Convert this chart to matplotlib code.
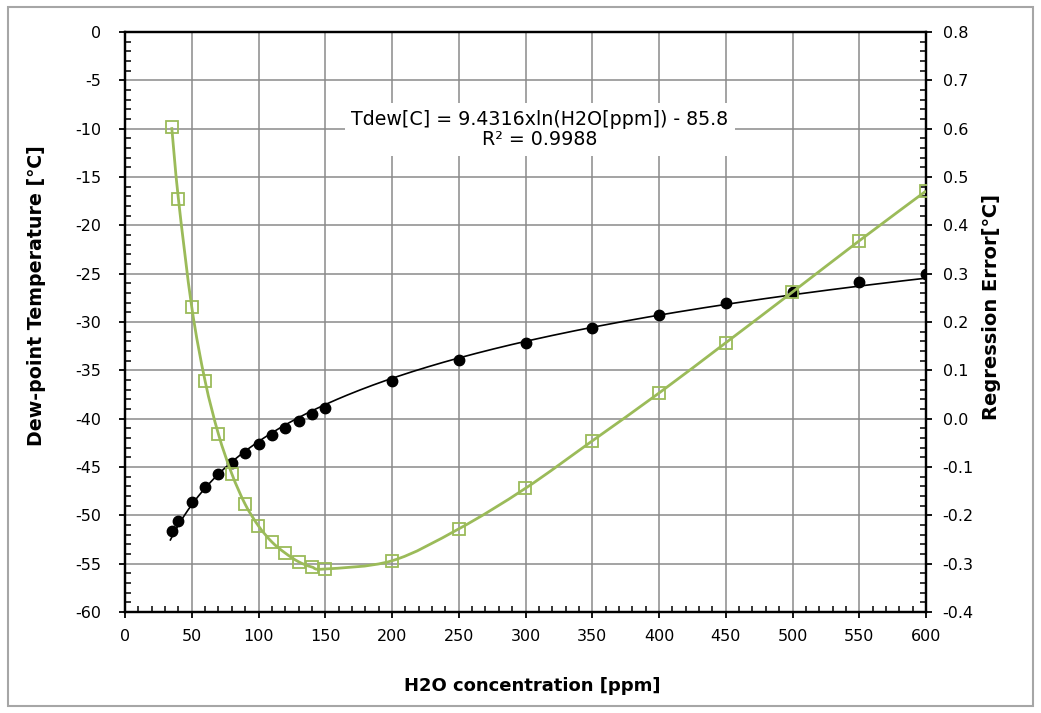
import numpy as np
import matplotlib
matplotlib.use("Agg")
import matplotlib.pyplot as plt
from matplotlib.path import Path
from matplotlib.patches import PathPatch, Rectangle
from matplotlib.ticker import MultipleLocator, FormatStrFormatter

plt.rcParams['font.family'] = ['DejaVu Sans']
plt.rcParams['axes.unicode_minus'] = False

# values
h2o_ppm = [35, 40, 50, 60, 70, 80, 90, 100, 110, 120, 130, 140, 150,
           200, 250, 300, 350, 400, 450, 500, 550, 600]
dew_point = [-51.67, -50.55, -48.67, -47.10, -45.76, -44.58, -43.54, -42.59,
             -41.73, -40.93, -40.19, -39.50, -38.85, -36.12, -33.95, -32.14,
             -30.60, -29.24, -28.02, -26.93, -25.91, -24.99]
reg_error = [0.603, 0.455, 0.231, 0.078, -0.032, -0.114, -0.177, -0.222,
             -0.255, -0.278, -0.296, -0.307, -0.311, -0.294, -0.228, -0.144,
             -0.046, 0.053, 0.157, 0.262, 0.368, 0.471]

fit_label = "Tdew[C] = 9.4316xln(H2O[ppm]) - 85.8\nR\u00b2 = 0.9988"

GREEN = '#9bbb59'
GRID = '#8a8a8a'


def smooth_path(xs, ys):
    # Catmull-Rom as cubic Bezier segments (like a spreadsheet "smoothed line")
    verts = [(xs[0], ys[0])]
    codes = [Path.MOVETO]
    n = len(xs)
    for i in range(n - 1):
        x0, y0 = (xs[i - 1], ys[i - 1]) if i > 0 else (xs[i], ys[i])
        x1, y1 = xs[i], ys[i]
        x2, y2 = xs[i + 1], ys[i + 1]
        x3, y3 = (xs[i + 2], ys[i + 2]) if i + 2 < n else (x2, y2)
        verts += [(x1 + (x2 - x0) / 6, y1 + (y2 - y0) / 6),
                  (x2 - (x3 - x1) / 6, y2 - (y3 - y1) / 6),
                  (x2, y2)]
        codes += [Path.CURVE4] * 3
    return Path(verts, codes)


fig = plt.figure(figsize=(10.41, 7.13), dpi=100)
ax = fig.add_axes([125 / 1041, 1 - 612 / 713, 801 / 1041, 580 / 713])
ax2 = ax.twinx()

# logarithmic trendline fitted to the dew-point data
a, b = np.polyfit(np.log(h2o_ppm), dew_point, 1)
xfit = np.linspace(34, 600, 300)
ax.plot(xfit, a * np.log(xfit) + b, color='black', lw=1.2, zorder=3)
ax.plot(h2o_ppm, dew_point, 'o', color='black', ms=7.5, zorder=4)

ax2.add_patch(PathPatch(smooth_path(h2o_ppm, reg_error), facecolor='none',
                        edgecolor=GREEN, lw=2, zorder=3))
ax2.plot(h2o_ppm, reg_error, 's', mfc='none', mec=GREEN, mew=1.3, ms=9,
         zorder=4)

ax.set_xlim(0, 600)
ax.set_ylim(-60, 0)
ax2.set_ylim(-0.4, 0.8)

ax.xaxis.set_major_locator(MultipleLocator(50))
ax.xaxis.set_minor_locator(MultipleLocator(10))
ax.yaxis.set_major_locator(MultipleLocator(5))
ax.yaxis.set_minor_locator(MultipleLocator(1))
ax2.yaxis.set_major_locator(MultipleLocator(0.1))
ax2.yaxis.set_minor_locator(MultipleLocator(0.02))
ax2.yaxis.set_major_formatter(FormatStrFormatter('%.1f'))

ax.grid(which='major', color=GRID, lw=1.1)
ax.set_axisbelow(True)

for a_ in (ax, ax2):
    for s in a_.spines.values():
        s.set_linewidth(1.6)
        s.set_color('black')
    a_.tick_params(which='major', direction='out', length=4, width=1.3,
                   labelsize=11.5)
    a_.tick_params(which='minor', direction='in', length=4, width=1.1)
ax.tick_params(axis='y', which='major', pad=13)
ax.tick_params(axis='x', which='major', pad=8)
ax2.tick_params(axis='y', which='major', pad=8)

ax.set_xlabel('H2O concentration [ppm]', fontweight='bold', fontsize=13)
ax.set_ylabel('Dew-point Temperature [\u2103]', fontweight='bold', fontsize=13.7)
ax2.set_ylabel('Regression Error[\u2103]', fontweight='bold', fontsize=14)
ax.xaxis.set_label_coords(0.509, -0.112)
ax.yaxis.set_label_coords(-0.0986, 0.545)
ax2.yaxis.set_label_coords(1.070, 0.526)

ax.text(0.518, 0.832, fit_label, transform=ax.transAxes, ha='center',
        va='center', fontsize=13.7, linespacing=1.1, zorder=5,
        bbox=dict(facecolor='white', edgecolor='none', pad=5))

fig.patches.append(Rectangle((8 / 1041, 1 - 706 / 713), 1025 / 1041, 699 / 713,
                             transform=fig.transFigure, fill=False,
                             edgecolor='#a6a6a6', lw=1.5))

fig.savefig('out.png', dpi=100)
